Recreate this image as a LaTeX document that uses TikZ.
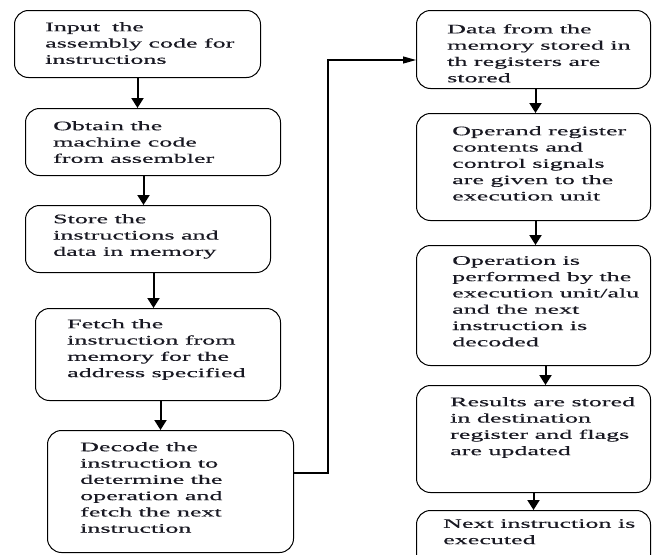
\documentclass[tikz,border=0pt]{standalone}
\usepackage{fontspec}
\setmainfont{Liberation Serif}[FakeStretch=2.0,FakeBold=0.3]
\usetikzlibrary{arrows.meta,calc}
\definecolor{ink}{RGB}{25,25,35}
\tikzset{
 box/.style={draw=black, line width=1pt, rounded corners=14pt, anchor=north west, inner sep=0pt},
 txt/.style={anchor=north west, align=left, inner sep=0pt, text=ink, font=\fontsize{13}{16.3}\selectfont},
 arr/.style={line width=2pt, -{Triangle[width=12pt,length=10pt]}},
 conn/.style={line width=1.2pt, -{Triangle[width=7pt,length=13pt]}},
}
\begin{document}
\begin{tikzpicture}[x=1pt,y=-1pt]
\clip (0,0) rectangle (652,554);
\fill[white] (0,0) rectangle (652,554);
% left column
\node[box, minimum width=246pt, minimum height=67pt] (b1) at (14,10) {};
\node[box, minimum width=255pt, minimum height=67pt] (b2) at (25,108) {};
\node[box, minimum width=245pt, minimum height=67pt] (b3) at (25,205) {};
\node[box, minimum width=245pt, minimum height=92pt] (b4) at (35,308) {};
\node[box, minimum width=246pt, minimum height=122pt] (b5) at (47,430) {};
% right column
\node[box, minimum width=234pt, minimum height=78pt] (b6) at (416,10) {};
\node[box, minimum width=234pt, minimum height=107pt] (b7) at (416,113) {};
\node[box, minimum width=234pt, minimum height=120pt] (b8) at (416,245) {};
\node[box, minimum width=234pt, minimum height=107pt] (b9) at (416,385) {};
\node[box, minimum width=234pt, minimum height=60pt] (b10) at (416,510) {};
% texts
\node[txt] (t1) at (45,22) {Input\hspace{12pt}the\\assembly code for\\instructions};
\node[txt] (t2) at (53,121) {Obtain the\\machine code\\from assembler};
\node[txt] (t3) at (53,214) {Store the\\instructions and\\data in memory};
\node[txt] (t4) at (67,319) {Fetch the\\instruction from\\memory for the\\address specified};
\node[txt] (t5) at (80,442) {Decode the\\instruction to\\determine the\\operation and\\fetch the next\\instruction};
\node[txt] (t6) at (447,24) {Data from the\\memory stored in\\th registers are\\stored};
\node[txt] (t7) at (452,126) {Operand register\\contents and\\control signals\\are given to the\\execution unit};
\node[txt] (t8) at (452,256) {Operation is\\performed by the\\execution unit/alu\\and the next\\instruction is\\decoded};
\node[txt] (t9) at (450,397) {Results are stored\\in destination\\register and flags\\are updated};
\node[txt] (t10) at (443,519) {Next instruction is\\executed};
% arrows
\draw[arr] (b1.south) -- (b1.south |- b2.north);
\draw[arr] ([xshift=-9.5pt]b2.south) -- ([xshift=-9.5pt]b2.south |- b3.north);
\draw[arr] ([xshift=5.5pt]b3.south) -- ([xshift=5.5pt]b3.south |- b4.north);
\draw[arr] ([xshift=2.5pt]b4.south) -- ([xshift=2.5pt]b4.south |- b5.north);
\draw[arr] ([xshift=2pt]b6.south) -- ([xshift=2pt]b6.south |- b7.north);
\draw[arr] ([xshift=2pt]b7.south) -- ([xshift=2pt]b7.south |- b8.north);
\draw[arr] ([xshift=12pt]b8.south) -- ([xshift=12pt]b8.south |- b9.north);
\draw[arr] (b9.south) -- (b9.south |- b10.north);
% connector
\coordinate (c1) at (328,473);
\coordinate (c2) at (328,60);
\draw[conn] (b5.east |- c1) -- (c1) -- (c2) -- (c2 -| b6.west);
\end{tikzpicture}
\end{document}
